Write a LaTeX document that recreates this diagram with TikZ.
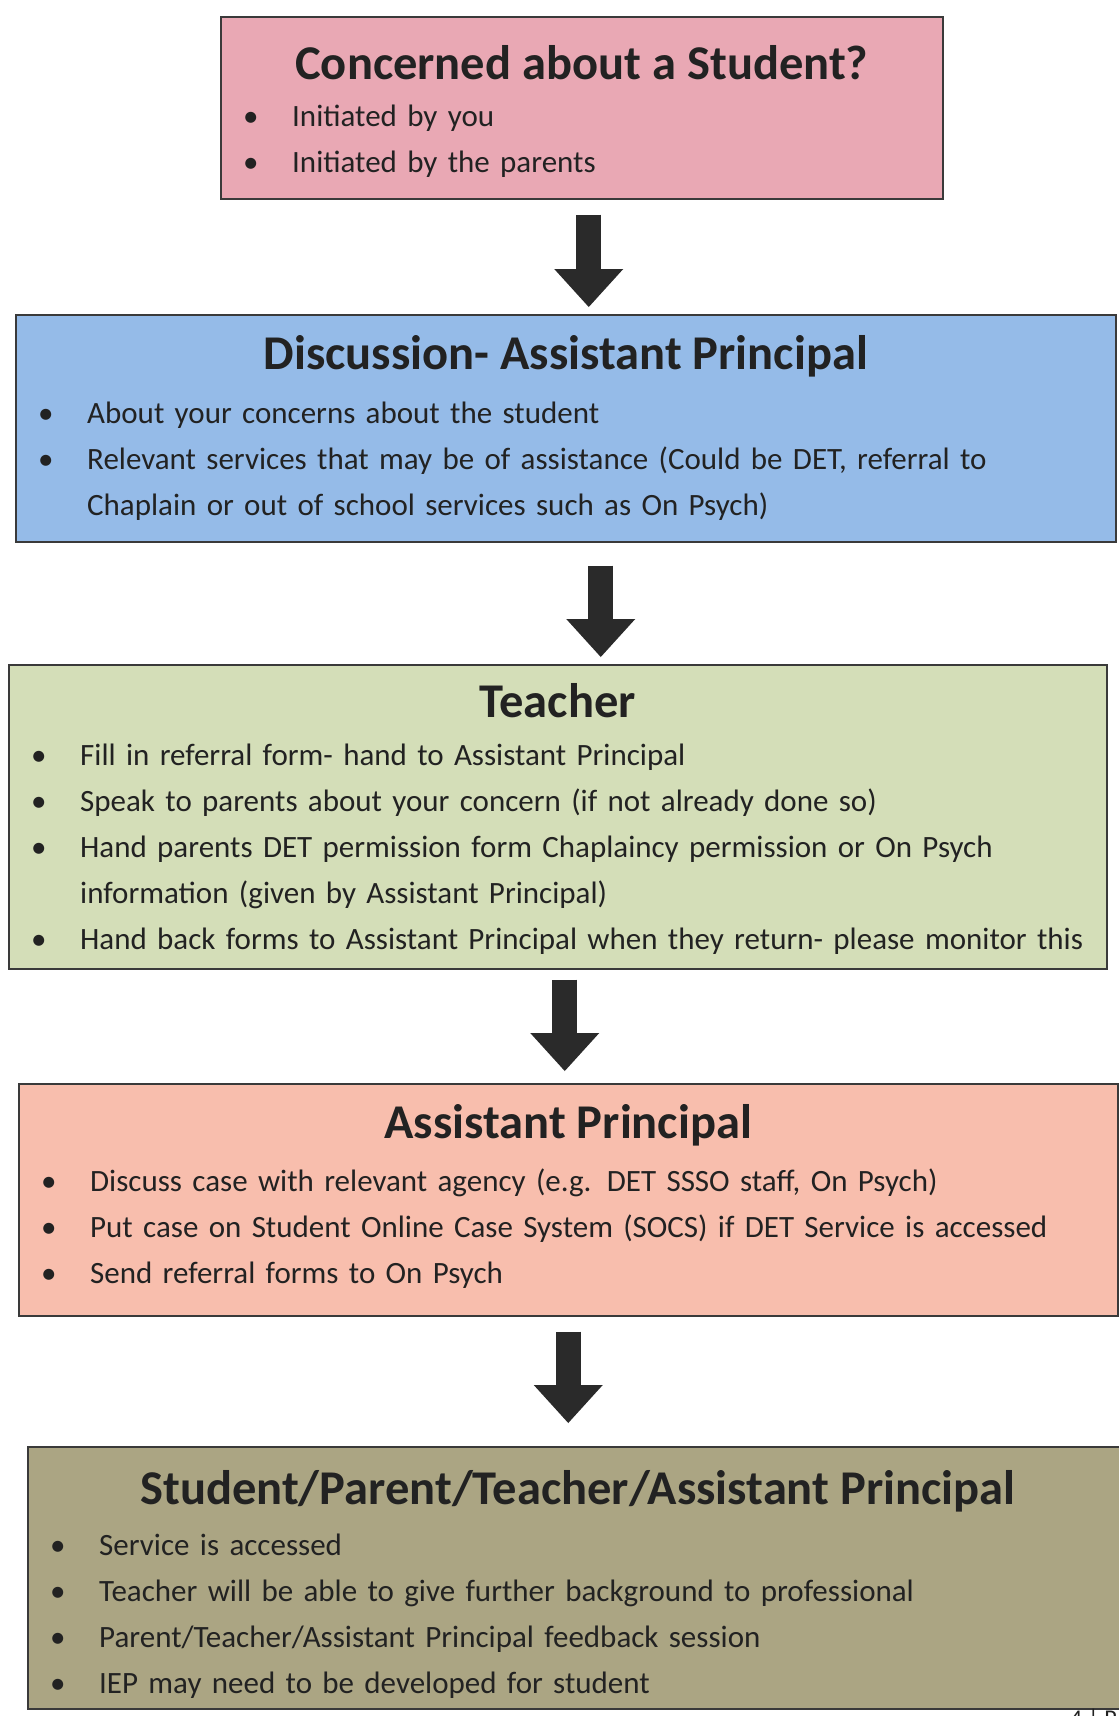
\documentclass[tikz,border=0pt]{standalone}
\usepackage{fontspec}
\setmainfont{Carlito}
\usetikzlibrary{calc,arrows.meta}
\definecolor{pinkfill}{HTML}{E9A8B4}
\definecolor{bluefill}{HTML}{95BBE8}
\definecolor{greenfill}{HTML}{D4DEB8}
\definecolor{salmonfill}{HTML}{F8BEAD}
\definecolor{olivefill}{HTML}{ABA583}
\definecolor{boxline}{HTML}{3A3A3A}
\definecolor{inkcol}{HTML}{222222}
\definecolor{arrowcol}{HTML}{2A2A2A}
\newlength{\bulind}\setlength{\bulind}{49pt}
\newcommand{\bul}[1]{\noindent\hangindent=\bulind\hangafter=1\makebox[\bulind][l]{\textbullet}#1\par}
\begin{document}
\begin{tikzpicture}[x=1pt,y=1pt,
	box/.style={draw=boxline,line width=1.5pt,fill=#1,anchor=north west,inner sep=0pt},
	titletext/.style={font=\fontsize{48.5}{56}\selectfont\bfseries,text=inkcol},
	listtext/.style={font=\fontsize{31}{46}\selectfont,text=inkcol,anchor=north west,inner sep=0pt,text width=1080pt,align=left},
	bigarrow/.style={draw=arrowcol,line width=25pt,-{Triangle[width=69pt,length=38pt,line width=0pt]}}]
\useasboundingbox (0,0) rectangle (1119,-1716);
\fill[white] (0,0) rectangle (1119,-1716);
\node[box=pinkfill,minimum width=722,minimum height=182] (concern) at (220,-16) {};
\node[titletext] (concernT) at ($(concern.north)+(0,-47)$) {Concerned about a Student?};
\node[listtext] (concernL) at ($(concern.north west)+(23,-89)$) {\bul{Initiated by you}\bul{Initiated by the parents}};
\node[box=bluefill,minimum width=1100,minimum height=227] (discuss) at (15,-314) {};
\node[titletext] (discussT) at ($(discuss.north)+(0,-42)$) {Discussion- Assistant Principal};
\node[listtext] (discussL) at ($(discuss.north west)+(23,-88)$) {\bul{About your concerns about the student}\bul{Relevant services that may be of assistance (Could be DET, referral to\break Chaplain or out of school services such as On Psych)}};
\node[box=greenfill,minimum width=1098,minimum height=304] (teacher) at (8,-664) {};
\node[titletext] (teacherT) at ($(teacher.north)+(0,-37)$) {Teacher};
\node[listtext] (teacherL) at ($(teacher.north west)+(23,-80)$) {\bul{Fill in referral form- hand to Assistant Principal}\bul{Speak to parents about your concern (if not already done so)}\bul{Hand parents DET permission form Chaplaincy permission or On Psych\break information (given by Assistant Principal)}\bul{Hand back forms to Assistant Principal when they return- please monitor this}};
\node[box=salmonfill,minimum width=1099,minimum height=232] (asstp) at (18,-1083) {};
\node[titletext] (asstpT) at ($(asstp.north)+(0,-42)$) {Assistant Principal};
\node[listtext] (asstpL) at ($(asstp.north west)+(23,-86)$) {\bul{Discuss case with relevant agency (e.g. DET SSSO staff, On Psych)}\bul{Put case on Student Online Case System (SOCS) if DET Service is accessed}\bul{Send referral forms to On Psych}};
\node[box=olivefill,minimum width=1100,minimum height=262] (everyone) at (27,-1446) {};
\node[titletext] (everyoneT) at ($(everyone.north)+(0,-45)$) {Student/Parent/Teacher/Assistant Principal};
\node[listtext] (everyoneL) at ($(everyone.north west)+(23,-88)$) {\bul{Service is accessed}\bul{Teacher will be able to give further background to professional}\bul{Parent/Teacher/Assistant Principal feedback session}\bul{IEP may need to be developed for student}};
\node[font=\fontsize{24}{28}\selectfont,text=inkcol,anchor=north west,inner sep=0pt] (pagenum) at (1070,-1709) {4 | P};
\draw[bigarrow,shorten >=7pt] ($(concern.south)+(7,-15)$) coordinate (a1) -- (a1 |- discuss.north);
\draw[bigarrow,shorten >=7pt] ($(discuss.south)+(35,-23)$) coordinate (a2) -- (a2 |- teacher.north);
\draw[bigarrow,shorten >=12pt] ($(teacher.south)+(7,-10)$) coordinate (a3) -- (a3 |- asstp.north);
\draw[bigarrow,shorten >=23pt] ($(asstp.south)+(0,-15)$) coordinate (a4) -- (a4 |- everyone.north);
\end{tikzpicture}
\end{document}
